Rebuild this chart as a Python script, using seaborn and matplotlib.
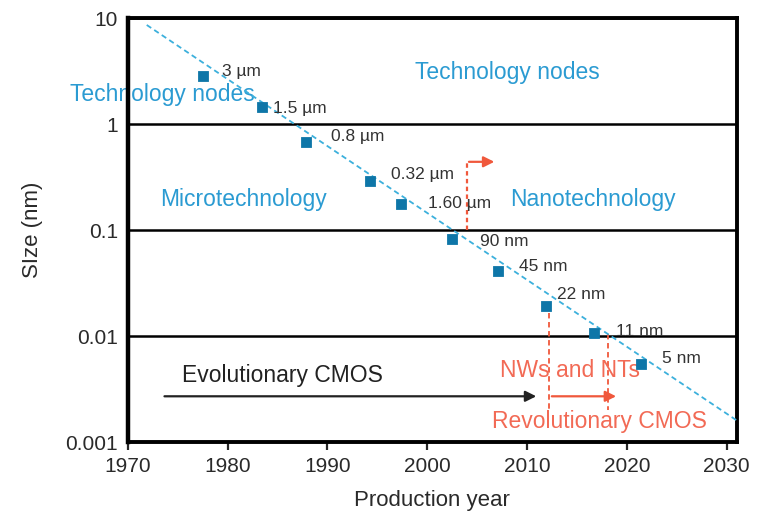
import numpy as np
import pandas as pd
import matplotlib
matplotlib.use("Agg")
import matplotlib.pyplot as plt
import seaborn as sns

# Technology nodes
years = [1977.5, 1983.4, 1987.9, 1994.3, 1997.4, 2002.5, 2007.1, 2011.9, 2016.7, 2021.4]
sizes = [2.84, 1.45, 0.68, 0.29, 0.176, 0.082, 0.041, 0.0192, 0.0107, 0.0054]
node_labels = ["3 \u00b5m", "1.5 \u00b5m", "0.8 \u00b5m", "0.32 \u00b5m", "1.60 \u00b5m",
               "90 nm", "45 nm", "22 nm", "11 nm", "5 nm"]

# dashed trend line (two end points)
trend_years = [1971.9, 2031.0]
trend_sizes = [8.6, 0.0016]

year_ticks = [1970, 1980, 1990, 2000, 2010, 2020, 2030]
size_ticks = [0.001, 0.01, 0.1, 1, 10]
size_ticklabels = ["0.001", "0.01", "0.1", "1", "10"]

# label offsets in points (layout only)
label_offsets = [(14, 3), (8, -1), (18, 4), (15, 5), (19, 0), (20, -2), (15, 3), (8, 8), (16, 1), (15, 4)]

blue_text = "#2b9bd2"
marker_col = "#0e76a8"
line_col = "#3cb0dc"
red = "#f0583c"
red_text = "#f26a55"

sns.set_theme(style="white")
plt.rcParams['font.family'] = ['Liberation Sans', 'DejaVu Sans']

fig = plt.figure(figsize=(7.65, 5.3), dpi=100)
ax = fig.add_axes([0.167, 0.166, 0.796, 0.800])

df = pd.DataFrame({"year": years, "size": sizes, "label": node_labels})
trend = pd.DataFrame({"year": trend_years, "size": trend_sizes})

sns.lineplot(data=trend, x="year", y="size", ax=ax, color=line_col, linestyle=(0, (3, 2)), linewidth=1.3, zorder=3)
sns.scatterplot(data=df, x="year", y="size", ax=ax, marker="s", s=55, color=marker_col, edgecolor=marker_col, zorder=4)

ax.set_yscale("log")
ax.set_xlim(1970, 2031)
ax.set_ylim(0.001, 10)
ax.set_xticks(year_ticks)
ax.set_yticks(size_ticks)
ax.set_yticklabels(size_ticklabels)
ax.minorticks_off()
ax.yaxis.grid(True, color="black", linewidth=1.8)
ax.set_axisbelow(True)

for sp in ax.spines.values():
    sp.set_visible(True)
    sp.set_color("black")
    sp.set_linewidth(2.8)
ax.spines["left"].set_linewidth(3.2)

ax.tick_params(axis="y", length=0, pad=7, labelsize=15)
ax.tick_params(axis="x", direction="out", length=6, width=1.6, pad=5, labelsize=15, bottom=True)
for t in ax.get_xticklabels() + ax.get_yticklabels():
    t.set_color("#2a2a2a")

ax.set_xlabel("Production year", fontsize=16, color="#2a2a2a", labelpad=10)
ax.set_ylabel("SIze (nm)", fontsize=16, color="#2a2a2a", labelpad=16)

# node labels
for (yr, sz, lab), off in zip(zip(years, sizes, node_labels), label_offsets):
    ax.annotate(lab, (yr, sz), xytext=off, textcoords="offset points", ha="left", va="center",
                fontsize=12.5, color="#333333")

# region texts
ax.text(1973.5, 1.88, "Technology nodes", color=blue_text, fontsize=16.5, ha="center", va="center", clip_on=False, zorder=1)
ax.text(2008.0, 3.09, "Technology nodes", color=blue_text, fontsize=16.5, ha="center", va="center")
ax.text(1981.6, 0.196, "Microtechnology", color=blue_text, fontsize=16.5, ha="center", va="center")
ax.text(2016.6, 0.196, "Nanotechnology", color=blue_text, fontsize=16.5, ha="center", va="center")
ax.text(1985.5, 0.00428, "Evolutionary CMOS", color="#222222", fontsize=16.5, ha="center", va="center")
ax.text(2014.3, 0.00468, "NWs and NTs", color=red_text, fontsize=16.5, ha="center", va="center")
ax.text(2017.3, 0.00155, "Revolutionary CMOS", color=red_text, fontsize=16.5, ha="center", va="center")

# arrows
ax.annotate("", xy=(2011.2, 0.0027), xytext=(1973.4, 0.0027),
            arrowprops=dict(arrowstyle="-|>", color="#222222", lw=1.6, mutation_scale=16))
ax.annotate("", xy=(2019.2, 0.0027), xytext=(2012.2, 0.0027),
            arrowprops=dict(arrowstyle="-|>", color=red, lw=1.6, mutation_scale=16))
ax.plot([2012.2, 2012.2], [0.0166, 0.0020], color=red, linestyle=(0, (3, 2)), linewidth=1.3)
ax.plot([2018.1, 2018.1], [0.0104, 0.0020], color=red, linestyle=(0, (3, 2)), linewidth=1.3)
ax.plot([2004.0, 2004.0], [0.1, 0.44], color=red, linestyle=(0, (2, 1.5)), linewidth=1.6)
ax.annotate("", xy=(2007.0, 0.44), xytext=(2003.9, 0.44),
            arrowprops=dict(arrowstyle="-|>", color=red, lw=1.6, mutation_scale=16))

fig.savefig("out.png", dpi=100)
